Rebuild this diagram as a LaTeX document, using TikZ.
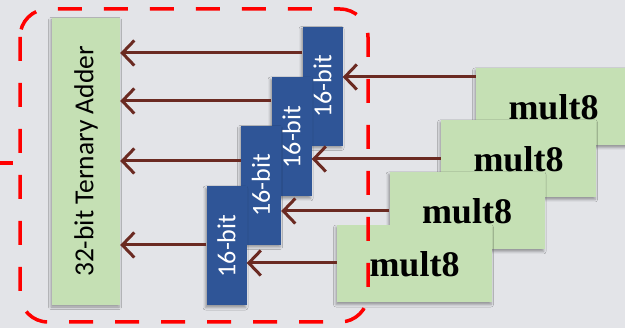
\documentclass[tikz,border=0pt]{standalone}
\usepackage{fontspec}
\usepackage{graphicx}
\setmainfont{Carlito}
\newfontfamily\multfont{Liberation Serif}
\usetikzlibrary{arrows.meta,shadows.blur}
\definecolor{bg}{HTML}{E3E4E8}
\definecolor{addgreen}{HTML}{C5E0B4}
\definecolor{bitblue}{HTML}{2F5597}
\definecolor{wire}{HTML}{6B2A22}
\definecolor{frame}{HTML}{FF0000}
\begin{document}
\begin{tikzpicture}[x=1pt,y=-1pt,
  soft/.style={blur shadow={shadow xshift=-1pt, shadow yshift=-2pt,
      shadow blur radius=2.5pt, shadow opacity=35}},
  adderbox/.style={soft, fill=addgreen, inner sep=0pt,
      minimum width=68pt, minimum height=287pt,
      font=\fontsize{27.5}{32}\selectfont},
  bitbox/.style={soft, fill=bitblue, inner sep=0pt, text=white,
      minimum width=40pt, minimum height=119pt,
      font=\fontsize{26}{30}\selectfont},
  multbox/.style={soft, fill=addgreen, inner sep=0pt,
      minimum width=155pt, minimum height=77pt,
      font=\multfont\bfseries\fontsize{36}{40}\selectfont},
  wire/.style={draw=wire, line width=3pt,
      -{Straight Barb[length=12pt,width=25pt]}},
  framed/.style={draw=frame, line width=3.5pt}]

\fill[bg] (0,0) rectangle (625,328);
\useasboundingbox (0,0) rectangle (625,328);

% adder
\node[adderbox] (adder) at (86,161.5) {\rotatebox{90}{32-bit Ternary Adder}};

% 8-bit multipliers, back to front
\node[multbox] (mA) at (553.5,107) {mult8};
\node[multbox] (mB) at (518.5,159) {mult8};
\node[multbox] (mC) at (467,211) {mult8};
\node[multbox] (mD) at (414.5,264) {mult8};

% 16-bit partial product blocks, back to front
\node[bitbox] (b4) at (322.5,86.5) {\rotatebox{90}{16-bit}};
\node[bitbox] (b3) at (291.5,137) {\rotatebox{90}{16-bit}};
\node[bitbox] (b2) at (261,185.5) {\rotatebox{90}{16-bit}};
\node[bitbox] (b1) at (226.5,246) {\rotatebox{90}{16-bit}};

% wire heights
\coordinate (s1) at (0,53);
\coordinate (s2) at (0,101);
\coordinate (s3) at (0,161);
\coordinate (s4) at (0,245);
\coordinate (t1) at (0,77);
\coordinate (t2) at (0,159);
\coordinate (t3) at (0,211);
\coordinate (t4) at (0,263);

% multipliers into 16-bit blocks
\draw[wire] (mA.west |- t1) -- (b4.east |- t1);
\draw[wire] (mB.west |- t2) -- (b3.east |- t2);
\draw[wire] (mC.west |- t3) -- (b2.east |- t3);
\draw[wire] (mD.west |- t4) -- (b1.east |- t4);

% 16-bit blocks into the adder
\draw[wire] (b4.west |- s1) -- (adder.east |- s1);
\draw[wire] (b3.west |- s2) -- (adder.east |- s2);
\draw[wire] (b2.west |- s3) -- (adder.east |- s3);
\draw[wire] (b1.west |- s4) -- (adder.east |- s4);

% dashed grouping frame
\draw[framed, dash pattern=on 24pt off 22pt, rounded corners=28pt]
  (20,9) rectangle (368,322);
\coordinate (stubA) at (0,163);
\coordinate (stubB) at (13,163);
\draw[framed] (stubA) -- (stubB);
\end{tikzpicture}
\end{document}
